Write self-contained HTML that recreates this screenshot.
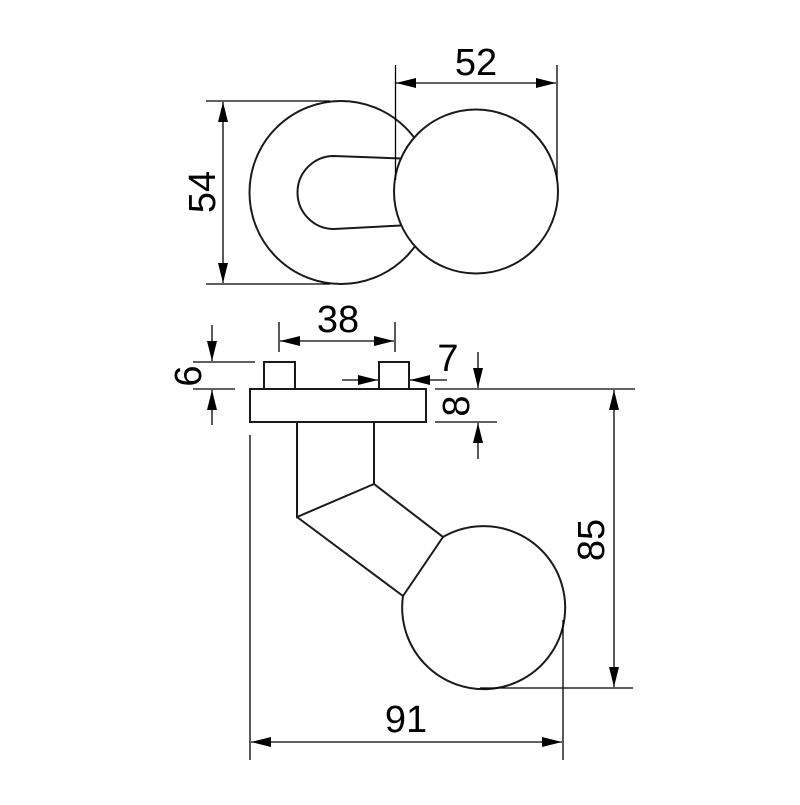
<!DOCTYPE html>
<html><head><style>html,body{margin:0;padding:0;background:#fff}</style></head>
<body>
<svg width="800" height="800" viewBox="0 0 800 800" xmlns="http://www.w3.org/2000/svg">
<defs>
<marker id="a" viewBox="0 0 20 10" refX="20" refY="5" markerWidth="20" markerHeight="10" markerUnits="userSpaceOnUse" orient="auto-start-reverse">
<path d="M0,0 L20,5 L0,10 Z" fill="#000"/>
</marker>
</defs>
<g fill="none" stroke="#1a1a1a" stroke-width="2">
<circle cx="341" cy="192.5" r="91.5"/>
<circle cx="476" cy="191.5" r="82" fill="#fff"/>
<path d="M401,158.5 L334,156 A36,36 0 0 0 334,229 L401,225.5"/>
</g>
<g fill="none" stroke="#000" stroke-width="1.3">
<line x1="206" y1="101" x2="330" y2="101"/>
<line x1="206" y1="284" x2="330" y2="284"/>
<line x1="223" y1="102" x2="223" y2="283" marker-start="url(#a)" marker-end="url(#a)"/>
<line x1="395.5" y1="65" x2="395.5" y2="180"/>
<line x1="557" y1="65" x2="557" y2="180"/>
<line x1="396" y1="83" x2="556" y2="83" marker-start="url(#a)" marker-end="url(#a)"/>
</g>
<g fill="none" stroke="#1a1a1a" stroke-width="2">
<rect x="250" y="389" width="176" height="33"/>
<rect x="264" y="362" width="31" height="27"/>
<rect x="379" y="362" width="30" height="27"/>
<path d="M297,422 L297,517 L374,484 L374,422"/>
<path d="M374,484 L443,537 L403,596 L297,517"/>
<path d="M443,537 A81.5,81.5 0 1 1 403,596"/>
</g>
<g fill="none" stroke="#000" stroke-width="1.3">
<line x1="279" y1="322" x2="279" y2="352"/>
<line x1="395" y1="322" x2="395" y2="352"/>
<line x1="280" y1="341" x2="394" y2="341" marker-start="url(#a)" marker-end="url(#a)"/>
<line x1="193" y1="362" x2="255" y2="362"/>
<line x1="193" y1="389" x2="235" y2="389"/>
<line x1="212" y1="325" x2="212" y2="361" marker-end="url(#a)"/>
<line x1="212" y1="425" x2="212" y2="390" marker-end="url(#a)"/>
<line x1="342" y1="380" x2="378" y2="380" marker-end="url(#a)"/>
<line x1="447" y1="380" x2="410" y2="380" marker-end="url(#a)"/>
<line x1="435" y1="389" x2="635" y2="389"/>
<line x1="435" y1="422" x2="497" y2="422"/>
<line x1="478" y1="352" x2="478" y2="388" marker-end="url(#a)"/>
<line x1="478" y1="459" x2="478" y2="423" marker-end="url(#a)"/>
<line x1="614" y1="390" x2="614" y2="687" marker-start="url(#a)" marker-end="url(#a)"/>
<line x1="480" y1="688" x2="633" y2="688"/>
<line x1="250" y1="435" x2="250" y2="760"/>
<line x1="563" y1="620" x2="563" y2="760"/>
<line x1="251" y1="742" x2="562" y2="742" marker-start="url(#a)" marker-end="url(#a)"/>
</g>
<g font-family="Liberation Sans, Arial, sans-serif" font-size="38" fill="#000" text-anchor="middle">
<text x="476" y="75">52</text>
<text transform="translate(215,192) rotate(-90)">54</text>
<text x="338" y="332">38</text>
<text x="448" y="371">7</text>
<text transform="translate(201,376) rotate(-90)">6</text>
<text transform="translate(469,406) rotate(-90)">8</text>
<text transform="translate(604,540) rotate(-90)">85</text>
<text x="406" y="732">91</text>
</g>
</svg>
</body></html>
